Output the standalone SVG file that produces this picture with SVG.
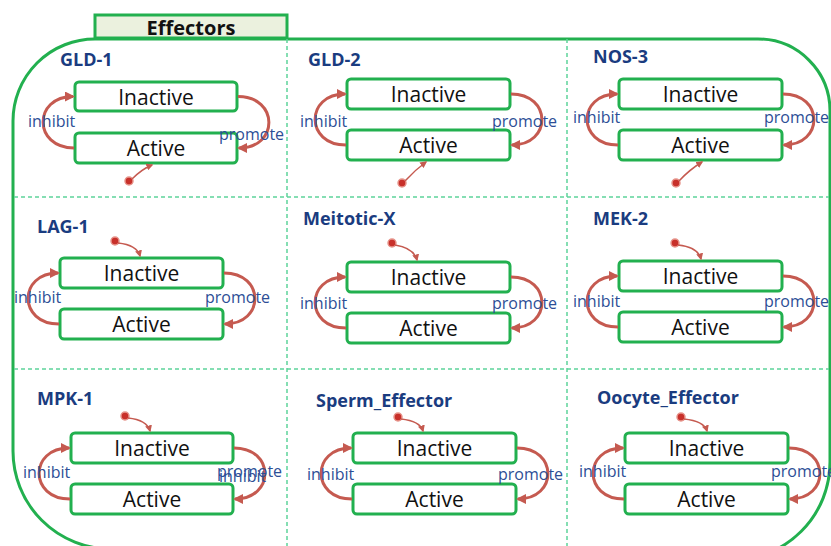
<svg xmlns="http://www.w3.org/2000/svg" width="831" height="546" viewBox="0 0 831 546">
<defs>
<style>
.frame{fill:none;stroke:#22B04F;stroke-width:3}
.tab{fill:#EBF1DE;stroke:#22B04F;stroke-width:3}
.tabt{font-family:"Open Sans","Liberation Sans",sans-serif;font-weight:bold;font-size:20px;fill:#111;text-anchor:middle}
.grid{stroke:#5ED39B;stroke-width:1.5;stroke-dasharray:4 3;fill:none}
.box{fill:#fff;stroke:#22B04F;stroke-width:3}
.bt{font-family:"Open Sans","Liberation Sans",sans-serif;font-size:21px;fill:#111;text-anchor:middle}
.title{font-family:"Open Sans","Liberation Sans",sans-serif;font-weight:bold;font-size:18px;fill:#1A3C80}
.lbl{font-family:"Open Sans","Liberation Sans",sans-serif;font-size:16px;fill:#2D4E96}
.arc{fill:none;stroke:#C55A50;stroke-width:3;marker-end:url(#ah)}
.init{fill:none;stroke:#C55A50;stroke-width:1.5;marker-end:url(#ah2)}
.dot{fill:#C8302A;stroke:#E6938A;stroke-width:1.5}
</style>
<marker id="ah" viewBox="0 0 10 10" refX="8" refY="5" markerWidth="10" markerHeight="10" markerUnits="userSpaceOnUse" orient="auto"><path d="M0,0 L10,5 L0,10 z" fill="#C55A50"/></marker>
<marker id="ah2" viewBox="0 0 10 10" refX="8" refY="5" markerWidth="7" markerHeight="7" markerUnits="userSpaceOnUse" orient="auto"><path d="M0,0 L10,5 L0,10 z" fill="#C55A50"/></marker>
</defs>
<rect width="831" height="546" fill="#fff"/>
<g id="frame">
<path class="frame" d="M13,121 A82,82 0 0 1 95,39 L758,39 A72,72 0 0 1 830,111 L830,462 A98,98 0 0 1 732,560 L111,549 A98,98 0 0 1 13,451 Z"/>
<rect class="tab" x="95" y="15" width="192" height="23"/>
<text class="tabt" x="191" y="35">Effectors</text>
</g>
<g id="grid">
<line class="grid" x1="287" y1="39" x2="287" y2="546"/>
<line class="grid" x1="567" y1="39" x2="567" y2="546"/>
<line class="grid" x1="14" y1="197" x2="829" y2="197"/>
<line class="grid" x1="14" y1="369" x2="829" y2="369"/>
</g>

<g id="GLD-1">
<text class="title" x="60" y="66">GLD-1</text>
<g id="GLD-1-inactive"><rect class="box" x="75" y="82" width="162" height="29" rx="4"/><text class="bt" x="156" y="105">Inactive</text></g>
<g id="GLD-1-active"><rect class="box" x="75" y="133" width="162" height="30" rx="4"/><text class="bt" x="156" y="156">Active</text></g>
<circle class="dot" cx="129" cy="181" r="4"/>
</g>
<g id="GLD-2">
<text class="title" x="308" y="66">GLD-2</text>
<g id="GLD-2-inactive"><rect class="box" x="347" y="79" width="163" height="30" rx="4"/><text class="bt" x="428.5" y="102">Inactive</text></g>
<g id="GLD-2-active"><rect class="box" x="347" y="130" width="163" height="30" rx="4"/><text class="bt" x="428.5" y="153">Active</text></g>
<circle class="dot" cx="402" cy="183" r="4"/>
</g>
<g id="NOS-3">
<text class="title" x="593" y="63">NOS-3</text>
<g id="NOS-3-inactive"><rect class="box" x="619" y="79" width="163" height="30" rx="4"/><text class="bt" x="700.5" y="102">Inactive</text></g>
<g id="NOS-3-active"><rect class="box" x="619" y="130" width="163" height="30" rx="4"/><text class="bt" x="700.5" y="153">Active</text></g>
<circle class="dot" cx="676" cy="183" r="4"/>
</g>
<g id="LAG-1">
<text class="title" x="37" y="233">LAG-1</text>
<g id="LAG-1-inactive"><rect class="box" x="60" y="258" width="163" height="30" rx="4"/><text class="bt" x="141.5" y="281">Inactive</text></g>
<g id="LAG-1-active"><rect class="box" x="60" y="309" width="163" height="30" rx="4"/><text class="bt" x="141.5" y="332">Active</text></g>
<circle class="dot" cx="115" cy="241" r="4"/>
</g>
<g id="Meitotic-X">
<text class="title" x="303" y="225">Meitotic-X</text>
<g id="Meitotic-X-inactive"><rect class="box" x="347" y="262" width="163" height="30" rx="4"/><text class="bt" x="428.5" y="285">Inactive</text></g>
<g id="Meitotic-X-active"><rect class="box" x="347" y="313" width="163" height="30" rx="4"/><text class="bt" x="428.5" y="336">Active</text></g>
<circle class="dot" cx="392" cy="243" r="4"/>
</g>
<g id="MEK-2">
<text class="title" x="593" y="225">MEK-2</text>
<g id="MEK-2-inactive"><rect class="box" x="619" y="261" width="163" height="30" rx="4"/><text class="bt" x="700.5" y="284">Inactive</text></g>
<g id="MEK-2-active"><rect class="box" x="619" y="312" width="163" height="30" rx="4"/><text class="bt" x="700.5" y="335">Active</text></g>
<circle class="dot" cx="675" cy="243" r="4"/>
</g>
<g id="MPK-1">
<text class="title" x="37" y="405">MPK-1</text>
<g id="MPK-1-inactive"><rect class="box" x="71" y="433" width="162" height="30" rx="4"/><text class="bt" x="152" y="456">Inactive</text></g>
<g id="MPK-1-active"><rect class="box" x="71" y="484" width="162" height="30" rx="4"/><text class="bt" x="152" y="507">Active</text></g>
<circle class="dot" cx="125" cy="416" r="4"/>
</g>
<g id="Sperm_Effector">
<text class="title" x="316" y="407">Sperm_Effector</text>
<g id="Sperm_Effector-inactive"><rect class="box" x="353" y="433" width="163" height="30" rx="4"/><text class="bt" x="434.5" y="456">Inactive</text></g>
<g id="Sperm_Effector-active"><rect class="box" x="353" y="484" width="163" height="30" rx="4"/><text class="bt" x="434.5" y="507">Active</text></g>
<circle class="dot" cx="398" cy="417" r="4"/>
</g>
<g id="Oocyte_Effector">
<text class="title" x="597" y="404">Oocyte_Effector</text>
<g id="Oocyte_Effector-inactive"><rect class="box" x="625" y="433" width="163" height="30" rx="4"/><text class="bt" x="706.5" y="456">Inactive</text></g>
<g id="Oocyte_Effector-active"><rect class="box" x="625" y="484" width="163" height="30" rx="4"/><text class="bt" x="706.5" y="507">Active</text></g>
<circle class="dot" cx="681" cy="417" r="4"/>
</g>

<g id="connectors">
<path class="arc" d="M74,148 C33,148 33,96.5 73,96.5"/>
<path class="arc" d="M238,96.5 C279,96.5 279,148 239,148"/>
<path class="init" d="M132,179 Q142,169 152,165"/>
<path class="arc" d="M346,145 C305,145 305,94 345,94"/>
<path class="arc" d="M511,94 C552,94 552,145 512,145"/>
<path class="init" d="M405,181 Q415,170 426,162"/>
<path class="arc" d="M618,145 C577,145 577,94 617,94"/>
<path class="arc" d="M783,94 C824,94 824,145 784,145"/>
<path class="init" d="M679,181 Q689,170 702,162"/>
<path class="arc" d="M59,324 C18,324 18,273 58,273"/>
<path class="arc" d="M224,273 C265,273 265,324 225,324"/>
<path class="init" d="M118,243 Q137,245 140,256"/>
<path class="arc" d="M346,328 C305,328 305,277 345,277"/>
<path class="arc" d="M511,277 C552,277 552,328 512,328"/>
<path class="init" d="M395,245 Q414,248 417,260"/>
<path class="arc" d="M618,327 C577,327 577,276 617,276"/>
<path class="arc" d="M783,276 C824,276 824,327 784,327"/>
<path class="init" d="M678,245 Q698,247 701,259"/>
<path class="arc" d="M70,499 C29,499 29,448 69,448"/>
<path class="arc" d="M234,448 C275,448 275,499 235,499"/>
<path class="init" d="M128,418 Q147,420 150,431"/>
<path class="arc" d="M352,499 C311,499 311,448 351,448"/>
<path class="arc" d="M517,448 C558,448 558,499 518,499"/>
<path class="init" d="M401,419 Q420,421 423,431"/>
<path class="arc" d="M624,499 C583,499 583,448 623,448"/>
<path class="arc" d="M789,448 C830,448 830,499 790,499"/>
<path class="init" d="M684,419 Q704,421 707,431"/>
</g>

<g id="labels">
<text class="lbl" x="28" y="127">inhibit</text>
<text class="lbl" x="219" y="140">promote</text>
<text class="lbl" x="300" y="127">inhibit</text>
<text class="lbl" x="492" y="127">promote</text>
<text class="lbl" x="573" y="123">inhibit</text>
<text class="lbl" x="764" y="123">promote</text>
<text class="lbl" x="14" y="303">inhibit</text>
<text class="lbl" x="205" y="303">promote</text>
<text class="lbl" x="300" y="309">inhibit</text>
<text class="lbl" x="492" y="309">promote</text>
<text class="lbl" x="573" y="307">inhibit</text>
<text class="lbl" x="764" y="307">promote</text>
<text class="lbl" x="23" y="478">inhibit</text>
<text class="lbl" x="217" y="477">promote</text>
<text class="lbl" x="219" y="482">inhibit</text>
<text class="lbl" x="307" y="480">inhibit</text>
<text class="lbl" x="498" y="480">promote</text>
<text class="lbl" x="579" y="477">inhibit</text>
<text class="lbl" x="771" y="477">promote</text>
</g>
</svg>
